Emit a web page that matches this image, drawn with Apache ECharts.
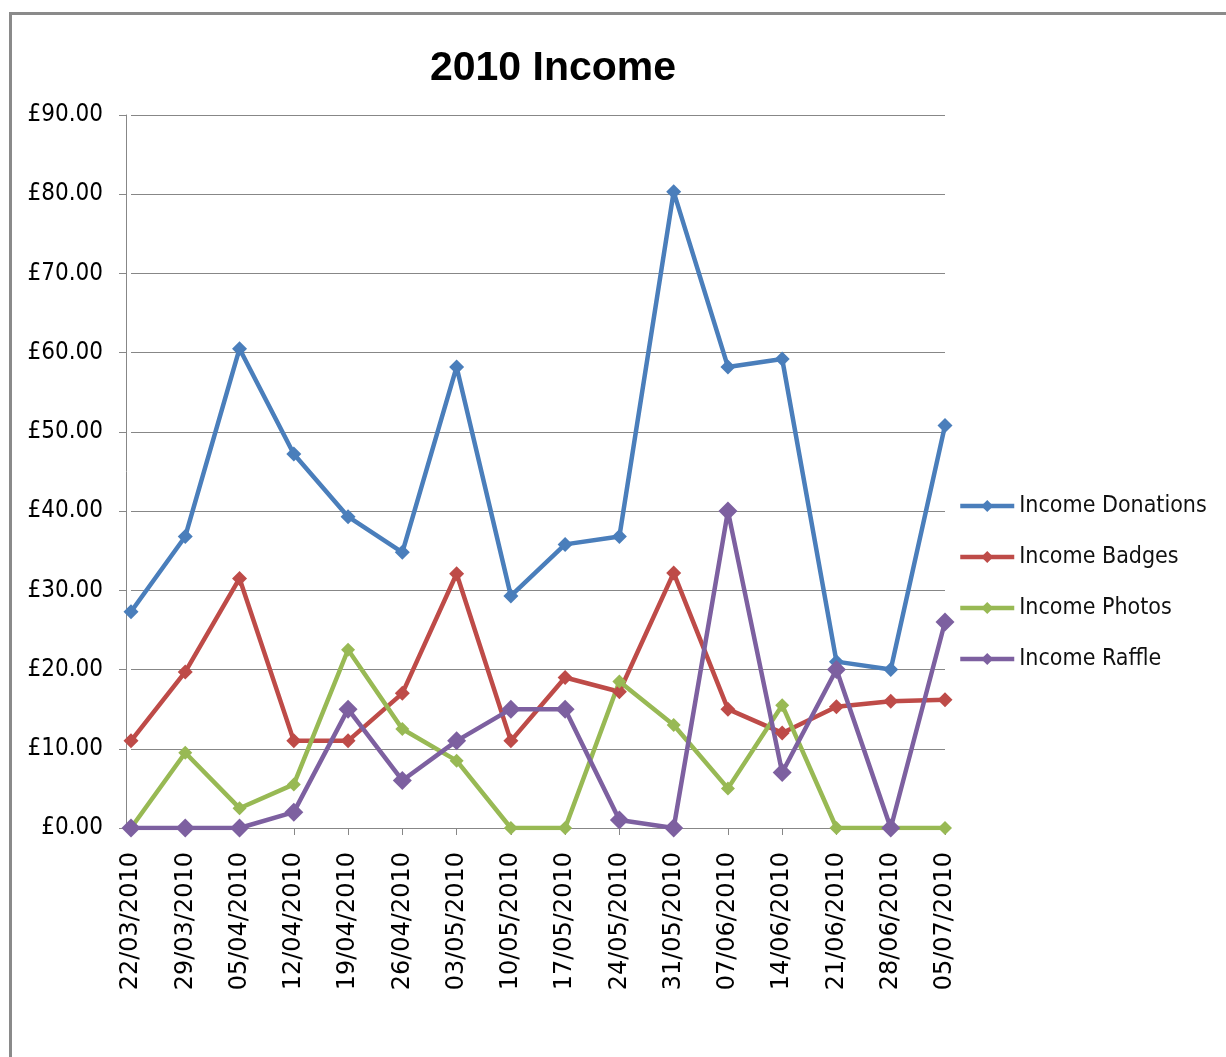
<!DOCTYPE html>
<html>
<head>
<meta charset="utf-8">
<title>2010 Income</title>
<script src="https://cdn.jsdelivr.net/npm/echarts@6/dist/echarts.min.js"></script>
<style>
  html, body { margin: 0; padding: 0; background: #fff; }
  #chart { width: 1226px; height: 1057px; }
</style>
</head>
<body>
<div id="chart"></div>
<script>
// Weekly income, 2010
const weeks = [
  '22/03/2010', '29/03/2010', '05/04/2010', '12/04/2010', '19/04/2010', '26/04/2010',
  '03/05/2010', '10/05/2010', '17/05/2010', '24/05/2010', '31/05/2010', '07/06/2010',
  '14/06/2010', '21/06/2010', '28/06/2010', '05/07/2010'
];
const donations = [27.3, 36.8, 60.5, 47.2, 39.3, 34.8, 58.2, 29.3, 35.8, 36.8, 80.3, 58.2, 59.2, 21.0, 20.0, 50.8];
const badges    = [11.0, 19.7, 31.5, 11.0, 11.0, 17.0, 32.1, 11.0, 19.0, 17.2, 32.2, 15.0, 12.0, 15.3, 16.0, 16.2];
const photos    = [0, 9.5, 2.5, 5.5, 22.5, 12.5, 8.5, 0, 0, 18.5, 13.0, 5.0, 15.5, 0, 0, 0];
const raffle    = [0, 0, 0, 2.0, 15.0, 6.0, 11.0, 15.0, 15.0, 1.0, 0, 40.0, 7.0, 20.0, 0, 26.0];

const seriesNames = ['Income Donations', 'Income Badges', 'Income Photos', 'Income Raffle'];
const seriesColors = ['#4A7EBB', '#BE4B48', '#98B954', '#7D60A0'];

const chart = echarts.init(document.getElementById('chart'), null, { renderer: 'canvas' });

function lineSeries(name, data, color, size) {
  return {
    name: name,
    type: 'line',
    data: data,
    symbol: 'diamond',
    symbolSize: size,
    showAllSymbol: true,
    lineStyle: { color: color, width: 4.5 },
    itemStyle: { color: color },
    emphasis: { disabled: true },
    animation: false
  };
}

chart.setOption({
  backgroundColor: '#fff',
  animation: false,
  graphic: [{
    type: 'rect',
    left: 8, top: 11,
    shape: { width: 1240, height: 1070 },
    style: { fill: 'none', stroke: '#8a8a8a', lineWidth: 3 },
    silent: true,
    z: -1
  }],
  title: {
    text: '2010 Income',
    left: 548,
    top: 43,
    textAlign: 'center',
    textStyle: {
      fontFamily: 'Liberation Sans',
      fontWeight: 'bold',
      fontSize: 41,
      color: '#000'
    }
  },
  legend: {
    orient: 'vertical',
    left: 953,
    top: 489,
    itemWidth: 54,
    itemHeight: 15,
    itemGap: 27,
    lineStyle: { width: 4.5 },
    textStyle: {
      fontFamily: 'DejaVu Sans Condensed',
      fontSize: 23,
      lineHeight: 24,
      color: '#111'
    },
    data: seriesNames
  },
  grid: { left: 131, right: 281, top: 115, bottom: 229 },
  xAxis: {
    type: 'category',
    data: weeks,
    boundaryGap: false,
    axisLine: { lineStyle: { color: '#878787', width: 1 } },
    axisTick: { show: true, length: 7, lineStyle: { color: '#878787' } },
    axisLabel: {
      rotate: 90,
      margin: 24,
      interval: 0,
      fontFamily: 'DejaVu Sans',
      fontSize: 24,
      color: '#000'
    },
    splitLine: { show: false }
  },
  yAxis: {
    type: 'value',
    min: 0,
    max: 90,
    interval: 10,
    offset: 5,
    axisLine: { show: true, lineStyle: { color: '#878787', width: 1 } },
    axisTick: { show: true, length: 7, lineStyle: { color: '#878787' } },
    axisLabel: {
      margin: 23,
      fontFamily: 'DejaVu Sans Condensed',
      fontSize: 24,
      color: '#000',
      formatter: v => '£' + v.toFixed(2)
    },
    splitLine: { show: true, lineStyle: { color: '#878787', width: 1 } }
  },
  series: [
    lineSeries(seriesNames[0], donations, seriesColors[0], 15),
    lineSeries(seriesNames[1], badges, seriesColors[1], 15),
    lineSeries(seriesNames[2], photos, seriesColors[2], 14),
    lineSeries(seriesNames[3], raffle, seriesColors[3], 19)
  ]
});
</script>
</body>
</html>
